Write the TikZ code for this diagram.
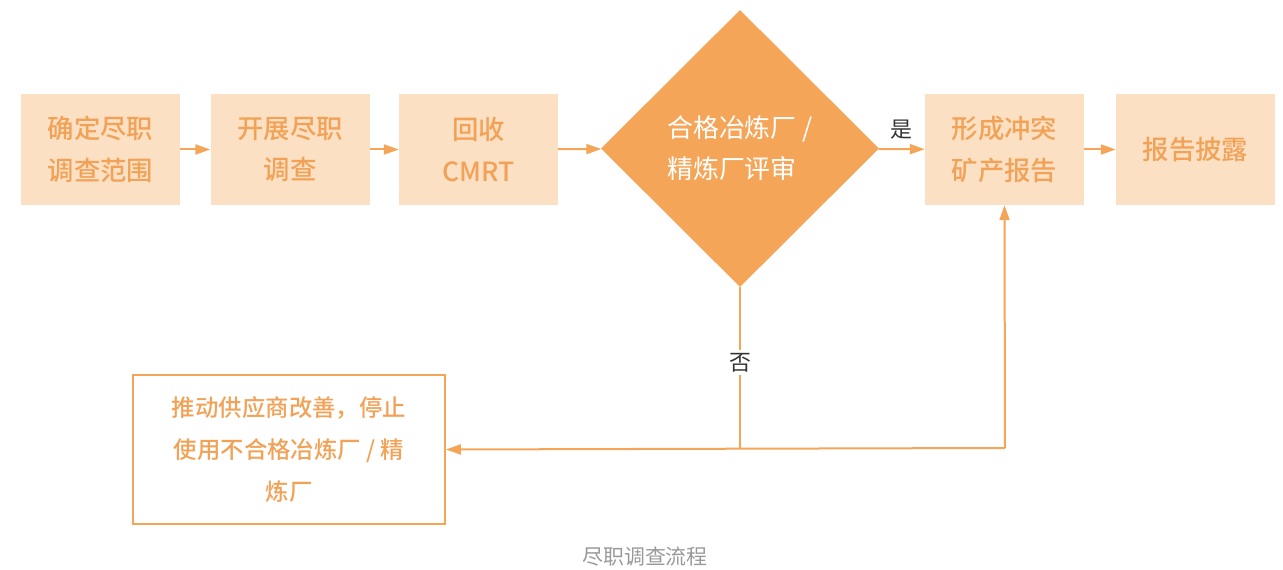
\documentclass[tikz,border=0pt]{standalone}
\usepackage{fontspec}
\setmainfont{Noto Sans CJK SC}
\newfontfamily\cjkmed{Noto Sans CJK SC Medium}
\usetikzlibrary{shapes.geometric,arrows.meta}
\definecolor{peach}{HTML}{FCE0C4}
\definecolor{org}{HTML}{F4A557}
\definecolor{orgtext}{HTML}{F2A257}
\definecolor{labgray}{HTML}{333333}
\definecolor{capgray}{HTML}{999999}
\begin{document}
\begin{tikzpicture}[x=1bp,y=-1bp,
  box/.style={fill=peach, draw=none, minimum width=159bp, minimum height=111bp, inner sep=0pt,
    text=orgtext, align=center, font=\cjkmed\fontsize{26.5}{42}\selectfont},
  dec/.style={shape=diamond, aspect=1, fill=org, draw=none, minimum width=278bp, minimum height=277bp,
    inner sep=0pt, text=white, align=left, font=\fontsize{26}{41}\selectfont},
  outbox/.style={draw=org, line width=1.8bp, fill=white, minimum width=312bp, minimum height=149bp,
    inner sep=0pt, text=orgtext, align=center, font=\cjkmed\fontsize{23.5}{42.5}\selectfont},
  conn/.style={draw=org, line width=2bp},
  arr/.style={conn, -{Triangle[length=15bp,width=10bp]}},
  lab/.style={text=labgray, font=\fontsize{22}{24}\selectfont, inner sep=2bp}]
\useasboundingbox (0,0) rectangle (1283,570);
\node[box] (b1) at (100.5,149.5) {确定尽职\\调查范围};
\node[box] (b2) at (290,149.5) {开展尽职\\调查};
\node[box] (b3) at (478.5,149.5) {回收\\CMRT};
\node[dec] (d) at (740,148.5) {合格冶炼厂 /\\精炼厂评审};
\node[box] (b5) at (1004.5,149.5) {形成冲突\\矿产报告};
\node[box] (b6) at (1195.5,149.5) {报告披露};
\node[outbox] (b7) at (289,449.5) {推动供应商改善，停止\\使用不合格冶炼厂 / 精\\炼厂};
\coordinate (j) at (740,448);
\coordinate (k) at (1005,448);
\draw[arr] (b1) -- (b2);
\draw[arr] (b2) -- (b3);
\draw[arr] (b3) -- (d);
\draw[arr] (d) -- node[lab, above=7bp] (yes) {是} (b5);
\draw[arr] (b5) -- (b6);
\draw[conn] (d.south) -- node[lab, fill=white, pos=0.47, inner sep=3bp] (no) {否} (j);
\draw[arr] (k) -- (b7.east);
\draw[arr] (k) -- (b5.south);
\node[text=capgray, font=\fontsize{21}{24}\selectfont] (cap) at (645,557) {尽职调查流程};
\end{tikzpicture}
\end{document}
